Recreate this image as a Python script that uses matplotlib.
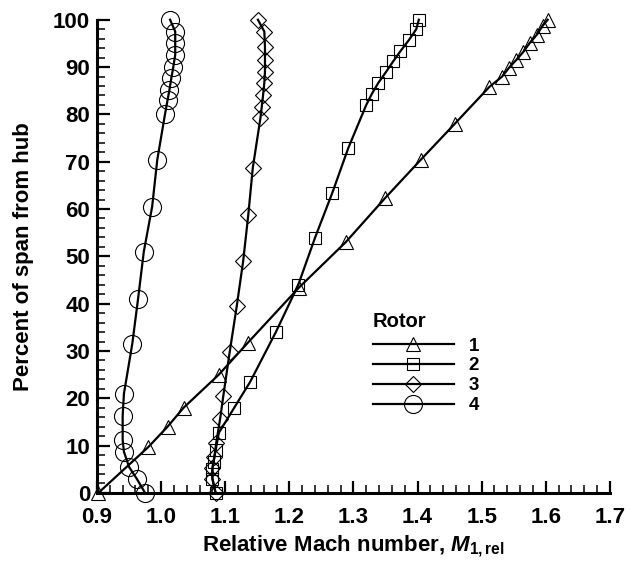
import matplotlib
matplotlib.use("Agg")
import matplotlib.pyplot as plt
from matplotlib.ticker import MultipleLocator

plt.rcParams['font.family'] = ['Liberation Sans', 'DejaVu Sans']
plt.rcParams['font.weight'] = 'bold'
plt.rcParams['axes.labelweight'] = 'bold'
plt.rcParams['mathtext.fontset'] = 'custom'
plt.rcParams['mathtext.rm'] = 'Liberation Sans:bold'
plt.rcParams['mathtext.it'] = 'Liberation Sans:italic:bold'

# relative Mach number (x) vs percent span from hub (y), one pair per rotor
rotor1_mach = [0.902, 0.980, 1.010, 1.035, 1.090, 1.135, 1.215, 1.288, 1.350,
               1.405, 1.458, 1.512, 1.532, 1.543, 1.554, 1.565, 1.575, 1.586,
               1.595, 1.603]
rotor1_span = [0, 9.7, 14, 18, 25, 31.7, 43.4, 53, 62.4, 70.4, 78, 85.8, 88,
               89.9, 91.5, 93.2, 95.1, 96.8, 98.7, 100]

rotor2_mach = [1.085, 1.080, 1.080, 1.082, 1.085, 1.090, 1.114, 1.139, 1.179,
               1.214, 1.240, 1.267, 1.292, 1.320, 1.329, 1.339, 1.351, 1.362,
               1.373, 1.387, 1.398, 1.402]
rotor2_span = [0, 3, 5, 6.6, 9, 12.7, 18, 23.5, 34, 44, 53.9, 63.4, 72.9, 82,
               84.4, 86.7, 89, 91.2, 93.3, 95.8, 98, 100]

rotor3_mach = [1.085, 1.080, 1.080, 1.083, 1.086, 1.092, 1.097, 1.107, 1.118,
               1.128, 1.136, 1.143, 1.155, 1.157, 1.159, 1.161, 1.162, 1.162,
               1.162, 1.161, 1.151]
rotor3_span = [0, 3, 5.3, 7.6, 10.6, 15.6, 20.5, 29.8, 39.5, 49, 58.8, 68.7,
               79.3, 81.6, 84, 86.7, 89, 91.5, 94.3, 97.5, 100]

rotor4_mach = [0.975, 0.962, 0.950, 0.942, 0.940, 0.940, 0.942, 0.955, 0.964,
               0.973, 0.986, 0.994, 1.006, 1.010, 1.013, 1.016, 1.019, 1.022,
               1.022, 1.022, 1.014]
rotor4_span = [0, 3, 5.5, 8.7, 11.2, 16.3, 21, 31.5, 41, 51, 60.5, 70.4, 80,
               83, 85.2, 87.7, 90, 92.6, 95, 97.5, 100]

rotor_labels = ['1', '2', '3', '4']

fig = plt.figure(figsize=(6.3, 5.64), dpi=100)
ax = fig.add_axes([0.154, 0.126, 0.814, 0.839])

series = [
    (rotor1_mach, rotor1_span, '^', 10),
    (rotor2_mach, rotor2_span, 's', 8.5),
    (rotor3_mach, rotor3_span, 'D', 8),
    (rotor4_mach, rotor4_span, 'o', 13),
]
for (mx, sp, mk, ms), lab in zip(series, rotor_labels):
    ax.plot(mx, sp, color='black', lw=1.6, marker=mk, ms=ms,
            mfc='none', mec='black', mew=0.8, label=lab, clip_on=False)

ax.set_xlim(0.9, 1.7)
ax.set_ylim(0, 100)
ax.xaxis.set_major_locator(MultipleLocator(0.1))
ax.xaxis.set_minor_locator(MultipleLocator(0.02))
ax.yaxis.set_major_locator(MultipleLocator(10))
ax.yaxis.set_minor_locator(MultipleLocator(2))
ax.xaxis.set_major_formatter(plt.FormatStrFormatter('%.1f'))

for s in ['top', 'right']:
    ax.spines[s].set_visible(False)
for s in ['left', 'bottom']:
    ax.spines[s].set_linewidth(2.2)

ax.tick_params(which='major', direction='in', length=9, width=1.6,
               labelsize=16)
ax.tick_params(axis='y', which='major', pad=5)
ax.tick_params(axis='x', which='major', pad=10)
ax.tick_params(which='minor', direction='in', length=5.5, width=1.1)

ax.set_xlabel('Relative Mach number, $M_{1,\\mathrm{rel}}$', fontsize=16,
              labelpad=4)
ax.set_ylabel('Percent of span from hub', fontsize=16, labelpad=14)

leg = ax.legend(title='Rotor', frameon=False, fontsize=13.5,
                title_fontsize=14.5, alignment='left', loc='upper left',
                bbox_to_anchor=(0.538, 0.382), borderpad=0, borderaxespad=0,
                labelspacing=0.15, handlelength=4.3, handletextpad=0.8)
leg.get_title().set_fontweight('bold')
# a bit more room between the title and the first row
leg._legend_box.sep = 4.5

fig.savefig('out.png', dpi=100)
